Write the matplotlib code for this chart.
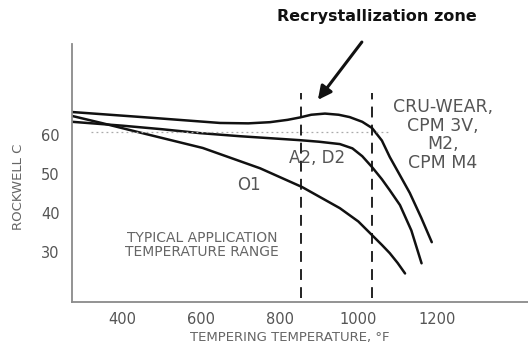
import matplotlib
matplotlib.use("Agg")
import matplotlib.pyplot as plt

# Data (tempering temperature °F vs Rockwell C)
cru_temp = [271, 450, 648, 720, 775, 820, 851, 880, 915, 950, 978, 1010, 1035, 1060, 1080, 1105, 1131, 1160, 1187]
cru_hrc = [65.8, 64.5, 63.0, 62.9, 63.2, 63.8, 64.4, 65.1, 65.4, 65.1, 64.5, 63.3, 61.7, 58.5, 54.3, 49.8, 45.1, 38.8, 32.5]

a2_temp = [271, 400, 500, 597, 700, 851, 900, 953, 985, 1010, 1035, 1060, 1080, 1106, 1135, 1161]
a2_hrc = [63.3, 62.3, 61.4, 60.4, 59.6, 58.6, 58.2, 57.6, 56.5, 54.5, 51.7, 48.6, 45.8, 42.0, 35.5, 27.1]

o1_temp = [271, 350, 450, 604, 750, 857, 953, 1000, 1035, 1060, 1080, 1100, 1119]
o1_hrc = [64.8, 62.9, 60.4, 56.6, 51.4, 46.6, 41.2, 37.8, 34.3, 31.8, 29.7, 27.2, 24.5]

zone_bounds = [855, 1035]
ref_hrc = 60.8
ref_span = [320, 1075]

x_ticks = [400, 600, 800, 1000, 1200]
y_ticks = [30, 40, 50, 60]

W, H = 528, 351
fig = plt.figure(figsize=(W / 100, H / 100), dpi=100)
ax = fig.add_axes([72 / W, 1 - 302 / H, 1 - 72 / W, (302 - 44) / H])

ax.set_xlim(271, 1432)
ax.set_ylim(17.2, 83.2)

lw = 1.8
for t, h in [(cru_temp, cru_hrc), (a2_temp, a2_hrc), (o1_temp, o1_hrc)]:
    ax.plot(t, h, color="#111111", lw=lw, solid_capstyle="round", solid_joinstyle="round")

ax.plot(ref_span, [ref_hrc, ref_hrc], color="#aaaaaa", lw=0.9, ls=(0, (1.5, 2.5)))

for zx in zone_bounds:
    ax.plot([zx, zx], [18.2, 70.6], color="#111111", lw=1.3, ls=(0, (6, 4)))

for s in ["top", "right"]:
    ax.spines[s].set_visible(False)
for s in ["left", "bottom"]:
    ax.spines[s].set_color("#8a8a8a")
    ax.spines[s].set_linewidth(1.3)

ax.set_xticks(x_ticks)
ax.set_xticklabels([str(v) for v in x_ticks])
ax.set_yticks(y_ticks)
ax.set_yticklabels([str(v) for v in y_ticks])
ax.tick_params(length=0, colors="#555555", labelsize=10.5)
ax.tick_params(axis="x", pad=7)
ax.tick_params(axis="y", pad=9)

ax.set_xlabel("TEMPERING TEMPERATURE, °F", fontsize=9.5, color="#666666")
ax.xaxis.set_label_coords((290 - 72) / 456, (302 - 331) / 258)
ax.set_ylabel("ROCKWELL C", fontsize=9.5, color="#666666")
ax.yaxis.set_label_coords((25 - 72) / 456, (302 - 187) / 258)

ax.text(1215, 59.9, "CRU-WEAR,\nCPM 3V,\nM2,\nCPM M4", ha="center", va="center",
        fontsize=12.5, color="#555555", linespacing=1.03)
ax.text(895, 54.0, "A2, D2", ha="center", va="center", fontsize=12, color="#555555")
ax.text(722, 47.1, "O1", ha="center", va="center", fontsize=12, color="#555555")
ax.text(602, 31.8, "TYPICAL APPLICATION\nTEMPERATURE RANGE", ha="center", va="center",
        fontsize=10, color="#666666", linespacing=1.0)

fig.text(377 / W, 1 - 17 / H, "Recrystallization zone", ha="center", va="center",
         fontsize=11.5, fontweight="bold", color="#111111")

ax.annotate("", xy=(897, 68.9), xytext=(1009, 83.7), annotation_clip=False,
            arrowprops=dict(arrowstyle="-|>,head_length=0.8,head_width=0.4",
                            color="#111111", lw=2.2, shrinkA=0, shrinkB=0))

fig.savefig("out.png", dpi=100)
